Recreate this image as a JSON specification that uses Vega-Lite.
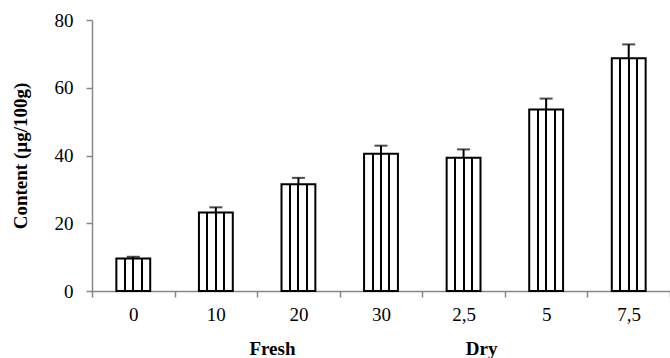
{
  "$schema": "https://vega.github.io/schema/vega-lite/v6.json",
  "width": 578,
  "height": 271,
  "autosize": "none",
  "padding": {"left": 92, "top": 20, "right": 0, "bottom": 67},
  "background": "white",
  "config": {
    "view": {"stroke": null},
    "font": "Liberation Serif",
    "axis": {"grid": false, "domainColor": "#878787", "tickColor": "#878787", "domainWidth": 1.5, "tickWidth": 1.5, "tickSize": 6, "labelFont": "Liberation Serif", "labelFontSize": 19, "labelColor": "#000", "titleFont": "Liberation Serif", "titleColor": "#000"}
  },
  "datasets": {
    "bars": [
      {"level": "0", "content": 9.6, "upper": 10.1},
      {"level": "10", "content": 23.2, "upper": 24.7},
      {"level": "20", "content": 31.5, "upper": 33.4},
      {"level": "30", "content": 40.5, "upper": 42.9},
      {"level": "2,5", "content": 39.3, "upper": 41.8},
      {"level": "5", "content": 53.6, "upper": 56.8},
      {"level": "7,5", "content": 68.7, "upper": 72.8}
    ],
    "groups": [
      {"group": "Fresh", "anchor": "20"},
      {"group": "Dry", "anchor": "2,5"}
    ]
  },
  "layer": [
    {
      "data": {"name": "bars"},
      "mark": {
        "type": "bar",
        "width": {"band": 0.41},
        "stroke": "#000",
        "strokeWidth": 2,
        "fill": {
          "gradient": "linear", "x1": 0, "y1": 0, "x2": 1, "y2": 0,
          "stops": [
            {"offset": 0, "color": "#ffffff"},
            {"offset": 0.22, "color": "#ffffff"},
            {"offset": 0.22, "color": "#000000"},
            {"offset": 0.28, "color": "#000000"},
            {"offset": 0.28, "color": "#ffffff"},
            {"offset": 0.47, "color": "#ffffff"},
            {"offset": 0.47, "color": "#000000"},
            {"offset": 0.53, "color": "#000000"},
            {"offset": 0.53, "color": "#ffffff"},
            {"offset": 0.72, "color": "#ffffff"},
            {"offset": 0.72, "color": "#000000"},
            {"offset": 0.78, "color": "#000000"},
            {"offset": 0.78, "color": "#ffffff"},
            {"offset": 1, "color": "#ffffff"}
          ]
        }
      },
      "encoding": {
        "x": {
          "field": "level", "type": "nominal", "sort": null,
          "scale": {"paddingInner": 0, "paddingOuter": 0},
          "axis": {"title": null, "labelAngle": 0, "tickBand": "extent", "labelPadding": 8}
        },
        "y": {
          "field": "content", "type": "quantitative",
          "scale": {"domain": [0, 80], "nice": false},
          "axis": {"values": [0, 20, 40, 60, 80], "title": "Content (µg/100g)", "titleFontSize": 19, "titleFontWeight": "bold", "titlePadding": 24, "labelPadding": 13}
        }
      }
    },
    {
      "data": {"name": "bars"},
      "mark": {"type": "rule", "color": "#000", "strokeWidth": 2},
      "encoding": {
        "x": {"field": "level", "type": "nominal", "sort": null},
        "y": {"field": "content", "type": "quantitative"},
        "y2": {"field": "upper"}
      }
    },
    {
      "data": {"name": "bars"},
      "mark": {"type": "tick", "color": "#000", "size": 13, "thickness": 2},
      "encoding": {
        "x": {"field": "level", "type": "nominal", "sort": null},
        "y": {"field": "upper", "type": "quantitative"}
      }
    },
    {
      "data": {"name": "groups"},
      "transform": [{"filter": "datum.group === 'Fresh'"}],
      "mark": {"type": "text", "fontWeight": "bold", "fontSize": 19, "baseline": "alphabetic", "align": "center", "dx": -26},
      "encoding": {
        "x": {"field": "anchor", "type": "nominal", "sort": null},
        "y": {"value": 335},
        "text": {"field": "group"}
      }
    },
    {
      "data": {"name": "groups"},
      "transform": [{"filter": "datum.group === 'Dry'"}],
      "mark": {"type": "text", "fontWeight": "bold", "fontSize": 19, "baseline": "alphabetic", "align": "center", "dx": 18},
      "encoding": {
        "x": {"field": "anchor", "type": "nominal", "sort": null},
        "y": {"value": 335},
        "text": {"field": "group"}
      }
    }
  ]
}
